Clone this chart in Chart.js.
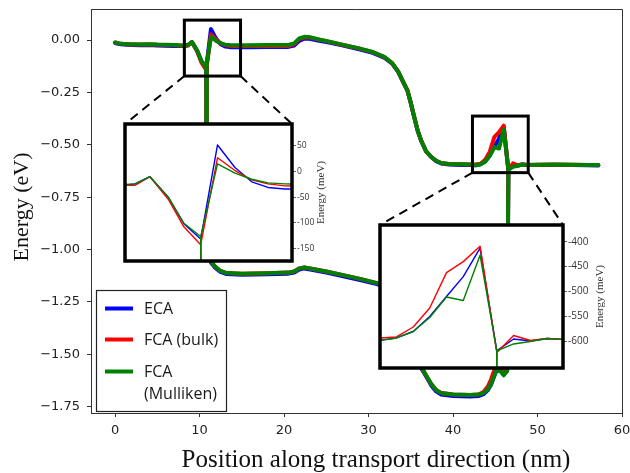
<!DOCTYPE html>
<html><head><meta charset="utf-8">
<script src="https://cdn.jsdelivr.net/npm/chart.js@4"></script>
<style>
html,body{margin:0;padding:0;background:#fff;}
#wrap{position:relative;width:630px;height:473px;overflow:hidden;}
canvas{position:absolute;left:0;top:0;}
</style></head><body>
<div id="wrap">
<canvas id="main" width="630" height="473" style="width:630px;height:473px"></canvas>
<canvas id="in1"></canvas>
<canvas id="in2"></canvas>
</div>
<script>
// ---------------- data ----------------
const seriesNames = ['ECA', 'FCA (bulk)', 'FCA\n(Mulliken)'];
const xTicks = [0, 10, 20, 30, 40, 50, 60];
const yTicks = [0, -0.25, -0.5, -0.75, -1.0, -1.25, -1.5, -1.75];
const inset1TicksMeV = [50, 0, -50, -100, -150];
const inset2TicksMeV = [-400, -450, -500, -550, -600];

const xUpper = [0,0.5,1,2,3,4,5,6,7,8, 8.6,9.1,9.71,10.23,10.79, 11.35,11.93,12.49,13.03,13.59,
  14.5,16,18,20.5,21.2, 21.8,22.4,23,24,25.5, 27,29,30.5,31.9,32.8, 33.5,34.1,34.6,35,35.4,
  35.8,36.2,36.8,37.4,38, 38.6,39.5,41,42.15,42.7, 43.26,43.81,44.35,44.9,45.45,
  46.0,46.55,47.1,47.65,48.2, 48.75,50,52,54,56, 57.2];
const ecaUpper = [-0.014,-0.019,-0.022,-0.024,-0.025,-0.024,-0.026,-0.027,-0.028,-0.029, -0.024,-0.010,-0.050,-0.102,-0.132, 0.052,0.008,-0.020,-0.031,-0.034,
  -0.034,-0.034,-0.033,-0.033,-0.026, -0.004,0.006,0.006,-0.002,-0.013, -0.027,-0.045,-0.061,-0.085,-0.113, -0.152,-0.201,-0.241,-0.301,-0.367,
  -0.431,-0.478,-0.531,-0.558,-0.578, -0.589,-0.594,-0.596,-0.597,-0.598, -0.593,-0.580,-0.550,-0.510,-0.470,
  -0.413,-0.619,-0.595,-0.599,-0.594, -0.596,-0.597,-0.596,-0.597,-0.598, -0.599];
const fcaBulkUpper = [-0.012,-0.016,-0.019,-0.021,-0.022,-0.021,-0.023,-0.024,-0.025,-0.027, -0.027,-0.010,-0.054,-0.108,-0.143, 0.027,0.002,-0.016,-0.024,-0.028,
  -0.029,-0.029,-0.028,-0.028,-0.020, 0.004,0.012,0.012,0.003,-0.010, -0.024,-0.042,-0.058,-0.082,-0.111, -0.150,-0.200,-0.240,-0.300,-0.366,
  -0.430,-0.477,-0.530,-0.557,-0.576, -0.587,-0.592,-0.593,-0.594,-0.593, -0.591,-0.571,-0.533,-0.462,-0.440,
  -0.409,-0.622,-0.588,-0.598,-0.594, -0.596,-0.595,-0.594,-0.595,-0.596, -0.597];
const fcaMullUpper = [-0.012,-0.016,-0.019,-0.020,-0.021,-0.020,-0.022,-0.023,-0.024,-0.026, -0.024,-0.010,-0.050,-0.101,-0.127, 0.015,-0.003,-0.015,-0.022,-0.024,
  -0.025,-0.025,-0.024,-0.024,-0.016, 0.008,0.015,0.014,0.004,-0.009, -0.023,-0.041,-0.057,-0.082,-0.110, -0.150,-0.200,-0.240,-0.300,-0.366,
  -0.430,-0.477,-0.530,-0.557,-0.576, -0.587,-0.592,-0.593,-0.594,-0.598, -0.593,-0.580,-0.552,-0.511,-0.518,
  -0.427,-0.619,-0.605,-0.600,-0.594, -0.596,-0.595,-0.594,-0.595,-0.596, -0.597];

const xLower = [10.79,10.85,11.1,11.4,11.8, 12.4,13.2,15,18,20.5, 21.2,21.8,22.4,23.1,25,
  27,29,31,32,32.8, 33.5,34.1,34.6,35,35.4, 35.8,36.2,36.6,37.4,38, 38.6,40,42,43,43.6,
  44.1,44.5,44.8,45.1,45.5, 46.0,46.4,46.55];
const ecaLower = [-0.132,-1.00,-1.045,-1.065,-1.085, -1.105,-1.117,-1.12,-1.118,-1.115, -1.11,-1.095,-1.09,-1.095,-1.11,
  -1.127,-1.145,-1.165,-1.18,-1.215, -1.255,-1.305,-1.345,-1.405,-1.465, -1.525,-1.565,-1.59,-1.647,-1.677, -1.692,-1.699,-1.701,-1.699,-1.69,
  -1.672,-1.645,-1.612,-1.582,-1.575, -1.595,-1.58,-0.619];
const fcaBulkLower = [-0.143,-1.00,-1.04,-1.06,-1.08, -1.10,-1.112,-1.115,-1.113,-1.11, -1.105,-1.09,-1.085,-1.09,-1.105,
  -1.122,-1.14,-1.16,-1.175,-1.21, -1.25,-1.30,-1.34,-1.40,-1.46, -1.52,-1.56,-1.585,-1.64,-1.67, -1.685,-1.692,-1.694,-1.692,-1.68,
  -1.655,-1.62,-1.585,-1.56,-1.555, -1.57,-1.57,-0.622];
const fcaMullLower = [-0.127,-1.00,-1.04,-1.06,-1.08, -1.10,-1.112,-1.115,-1.113,-1.11, -1.105,-1.09,-1.085,-1.09,-1.105,
  -1.122,-1.14,-1.16,-1.175,-1.21, -1.25,-1.30,-1.34,-1.40,-1.46, -1.52,-1.56,-1.585,-1.64,-1.67, -1.685,-1.692,-1.694,-1.692,-1.685,
  -1.668,-1.64,-1.61,-1.58,-1.575, -1.60,-1.58,-0.619];

// zoom windows (data coordinates)
const zoom1 = {x0: 8.2, x1: 14.85, y0: -0.172, y1: 0.095};
const zoom2 = {x0: 42.3, x1: 48.9, y0: -0.633, y1: -0.363};

// ---------------- helpers ----------------
const COL = ['#0000ff', '#ff0000', '#008000'];
const ORDER = [3, 2, 1];
function pts(xs, ys) { return xs.map((x, i) => ({x: x, y: ys[i]})); }
function makeDatasets(lw, clip) {
  const up = [ecaUpper, fcaBulkUpper, fcaMullUpper];
  const lo = [ecaLower, fcaBulkLower, fcaMullLower];
  const out = [];
  for (let k = 0; k < 3; k++) {
    [pts(xUpper, up[k]), pts(xLower, lo[k])].forEach(d => {
      const ds = {label: seriesNames[k], data: d, borderColor: COL[k], backgroundColor: COL[k],
        borderWidth: lw, pointRadius: 0, fill: false, tension: 0, order: ORDER[k],
        borderJoinStyle: 'round', borderCapStyle: 'round'};
      if (clip !== undefined) ds.clip = clip;
      out.push(ds);
    });
  }
  return out;
}
const fmtMinus = v => (Math.abs(v) < 1e-9 ? '0.00' : (v < 0 ? '\u2212' : '') + Math.abs(v).toFixed(2));

const frame1 = {x: 125, y: 124, w: 167, h: 137};
const frame2 = {x: 380, y: 225, w: 183, h: 143};

// ---------------- main chart ----------------
const mainPlugin = {
  id: 'mainDeco',
  afterDraw(chart) {
    const ctx = chart.ctx, a = chart.chartArea, sx = chart.scales.x, sy = chart.scales.y;
    ctx.save();
    ctx.strokeStyle = '#333'; ctx.lineWidth = 1;
    ctx.beginPath();
    ctx.moveTo(a.left, a.top + 0.5); ctx.lineTo(a.right + 0.5, a.top + 0.5); ctx.lineTo(a.right + 0.5, a.bottom);
    ctx.stroke();
    const insets = [[zoom1, frame1], [zoom2, frame2]];
    insets.forEach(([z, f]) => {
      const L = sx.getPixelForValue(z.x0), R = sx.getPixelForValue(z.x1);
      const T = sy.getPixelForValue(z.y1), B = sy.getPixelForValue(z.y0);
      ctx.setLineDash([9, 6]); ctx.lineWidth = 2; ctx.strokeStyle = '#000';
      ctx.beginPath(); ctx.moveTo(L, B); ctx.lineTo(f.x, f.y); ctx.stroke();
      ctx.beginPath(); ctx.moveTo(R, B); ctx.lineTo(f.x + f.w, f.y); ctx.stroke();
      ctx.setLineDash([]); ctx.lineWidth = 3;
      ctx.strokeRect(L, T, R - L, B - T);
    });
    const lx = 96, ly = 290, lw = 130, lh = 121;
    ctx.fillStyle = '#fff'; ctx.fillRect(lx, ly, lw, lh);
    ctx.strokeStyle = '#222'; ctx.lineWidth = 1.2; ctx.strokeRect(lx + 0.5, ly + 0.5, lw, lh);
    const rowsY = [308.5, 339.5, 371.5];
    ctx.font = '16px "Open Sans"'; ctx.textBaseline = 'middle'; ctx.textAlign = 'left';
    seriesNames.forEach((name, k) => {
      ctx.strokeStyle = COL[k]; ctx.lineWidth = 4;
      ctx.beginPath(); ctx.moveTo(105, rowsY[k]); ctx.lineTo(133, rowsY[k]); ctx.stroke();
      ctx.fillStyle = '#1a1a1a';
      name.split('\n').forEach((t, j) => ctx.fillText(t, 144, rowsY[k] + 1 + j * 22));
    });
    ctx.fillStyle = '#111';
    ctx.font = '25px "Liberation Serif"'; ctx.textAlign = 'center'; ctx.textBaseline = 'alphabetic';
    ctx.fillText('Position along transport direction (nm)', 376, 467);
    ctx.translate(22, 207); ctx.rotate(-Math.PI / 2);
    ctx.font = '22px "Liberation Serif"'; ctx.textBaseline = 'middle';
    ctx.fillText('Energy (eV)', 0, 0);
    ctx.restore();
  }
};

new Chart(document.getElementById('main'), {
  type: 'line',
  data: {datasets: makeDatasets(4)},
  options: {
    responsive: false, animation: false, devicePixelRatio: 1,
    layout: {padding: {left: 0, top: 9, right: 8, bottom: 0}},
    plugins: {legend: {display: false}, tooltip: {enabled: false}},
    scales: {
      x: {type: 'linear', min: -2.85, max: 60,
        afterBuildTicks: s => { s.ticks = xTicks.map(v => ({value: v})); },
        afterFit: s => { s.height = 60; s.paddingLeft = 0; s.paddingRight = 0; },
        ticks: {font: {family: 'DejaVu Sans', size: 13}, color: '#222', padding: 6, maxRotation: 0, autoSkip: false,
          callback: v => String(v)},
        grid: {drawOnChartArea: false, tickLength: 4, color: '#333', lineWidth: 1},
        border: {color: '#333', width: 1}},
      y: {type: 'linear', min: -1.78, max: 0.148,
        afterBuildTicks: s => { s.ticks = yTicks.map(v => ({value: v})); },
        afterFit: s => { s.width = 91; s.paddingTop = 0; s.paddingBottom = 0; },
        ticks: {font: {family: 'DejaVu Sans', size: 13}, color: '#222', padding: 7, autoSkip: false,
          callback: v => fmtMinus(v)},
        grid: {drawOnChartArea: false, tickLength: 4, color: '#333', lineWidth: 1},
        border: {color: '#333', width: 1}}
    }
  },
  plugins: [mainPlugin]
});

// ---------------- insets ----------------
function makeInset(id, frame, z, ticksMeV, fontSize, titleDx) {
  const pad = 4, extra = 50;
  const cv = document.getElementById(id);
  const W = frame.w + pad + extra, H = frame.h + 2 * pad;
  cv.width = W; cv.height = H;
  cv.style.width = W + 'px'; cv.style.height = H + 'px';
  cv.style.left = (frame.x - pad) + 'px'; cv.style.top = (frame.y - pad) + 'px';
  const deco = {
    id: 'insetDeco',
    beforeDraw(chart) {
      const a = chart.chartArea, ctx = chart.ctx;
      ctx.save(); ctx.fillStyle = '#fff'; ctx.fillRect(a.left, a.top, a.right - a.left, a.bottom - a.top); ctx.restore();
    },
    afterDraw(chart) {
      const a = chart.chartArea, ctx = chart.ctx;
      ctx.save();
      ctx.strokeStyle = '#000'; ctx.lineWidth = 3.5;
      ctx.strokeRect(a.left, a.top, a.right - a.left, a.bottom - a.top);
      ctx.fillStyle = '#333'; ctx.font = '11px "Liberation Serif"';
      ctx.textAlign = 'center'; ctx.textBaseline = 'middle';
      ctx.translate(a.right + titleDx, (a.top + a.bottom) / 2); ctx.rotate(-Math.PI / 2);
      ctx.fillText('Energy (meV)', 0, 0);
      ctx.restore();
    }
  };
  new Chart(cv, {
    type: 'line',
    data: {datasets: makeDatasets(1.4, 0)},
    options: {
      responsive: false, animation: false, devicePixelRatio: 1,
      layout: {padding: {left: pad, top: pad, bottom: pad, right: 0}},
      plugins: {legend: {display: false}, tooltip: {enabled: false}},
      scales: {
        x: {type: 'linear', min: z.x0, max: z.x1, display: false},
        y: {type: 'linear', position: 'right', min: z.y0, max: z.y1,
          afterBuildTicks: s => { s.ticks = ticksMeV.map(v => ({value: v / 1000})); },
          afterFit: s => { s.width = extra; s.paddingTop = 0; s.paddingBottom = 0; },
          ticks: {font: {family: 'Open Sans', size: fontSize}, color: '#333', padding: 1, autoSkip: false,
            callback: v => String(Math.round(v * 1000))},
          grid: {drawOnChartArea: false, tickLength: 4, color: '#666', lineWidth: 1},
          border: {display: false}}
      }
    },
    plugins: [deco]
  });
}
makeInset('in1', frame1, {x0: 8.27, x1: 13.83, y0: -0.1748, y1: 0.093}, inset1TicksMeV, 8.5, 29);
makeInset('in2', frame2, {x0: 42.72, x1: 48.72, y0: -0.6532, y1: -0.3666}, inset2TicksMeV, 10, 37);
</script>
</body></html>
